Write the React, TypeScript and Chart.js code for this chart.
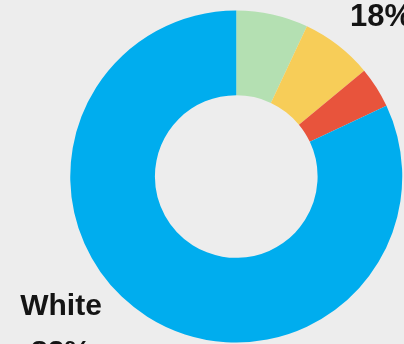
import React, { useEffect, useRef } from "react";
import { Chart, registerables } from "chart.js";

Chart.register(...registerables);

const categories = ["Green", "Yellow", "Red", "White"];
const values = [7, 7, 4, 82];
const colors = ["#b4e0b2", "#f7cd58", "#e8543c", "#00adee"];
const topLabel = "18%";
const bottomLabelName = "White";
const bottomLabelValue = "82%";

const BG = "#ededed";

const labelPlugin = {
  id: "cornerLabels",
  afterDraw(chart: any) {
    const ctx = chart.ctx;
    ctx.save();
    ctx.fillStyle = "#141414";
    ctx.font = "bold 31px 'Liberation Sans', Arial, sans-serif";
    ctx.textBaseline = "alphabetic";
    ctx.textAlign = "left";
    ctx.fillText(topLabel, 350, 26);
    ctx.font = "bold 30px 'Liberation Sans', Arial, sans-serif";
    ctx.textAlign = "center";
    ctx.fillText(bottomLabelName, 61, 315);
    ctx.fillText(bottomLabelValue, 61, 361);
    ctx.restore();
  },
};

export default function App() {
  const ref = useRef<HTMLCanvasElement>(null);
  useEffect(() => {
    document.body.style.margin = "0";
    document.body.style.background = BG;
    const chart = new Chart(ref.current!, {
      type: "doughnut",
      data: {
        labels: categories,
        datasets: [
          {
            data: values,
            backgroundColor: colors,
            borderWidth: 0,
          },
        ],
      },
      options: {
        responsive: false,
        animation: false,
        cutout: "49%",
        layout: { padding: { left: 70, right: 1.5, top: 10.5, bottom: 1.5 } },
        plugins: {
          legend: { display: false },
          tooltip: { enabled: false },
        },
      },
      plugins: [labelPlugin],
    });
    return () => chart.destroy();
  }, []);
  return (
    <div style={{ width: 404, height: 344, background: BG }}>
      <canvas ref={ref} width={404} height={344} style={{ display: "block" }} />
    </div>
  );
}
